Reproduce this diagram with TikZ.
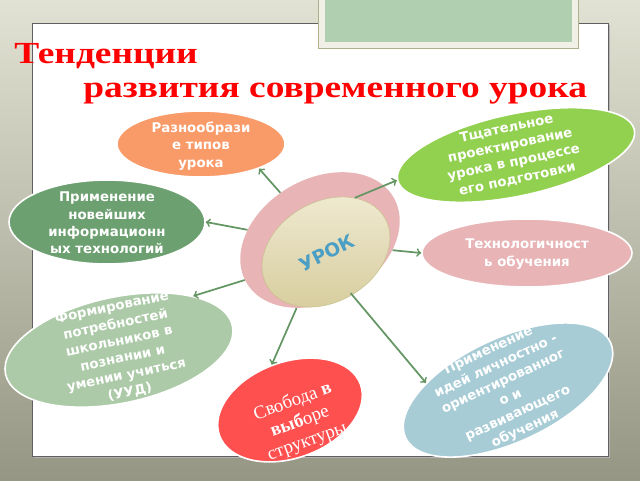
\documentclass[tikz,border=0pt]{standalone}
\usepackage{fontspec}
\setmainfont{DejaVu Sans}
\newfontfamily\titlefont{Liberation Serif}
\usetikzlibrary{shapes.geometric}

\definecolor{bgtop}{RGB}{226,226,212}
\definecolor{bgbot}{RGB}{150,150,132}
\definecolor{panelgrey}{RGB}{96,96,96}
\definecolor{boxframe}{RGB}{240,240,230}
\definecolor{boxedge}{RGB}{176,176,140}
\definecolor{boxgreen}{RGB}{176,206,176}
\definecolor{orangeb}{RGB}{248,155,105}
\definecolor{darkgreenb}{RGB}{108,160,112}
\definecolor{lightgreenb}{RGB}{172,202,168}
\definecolor{redb}{RGB}{255,80,80}
\definecolor{blueb}{RGB}{168,204,214}
\definecolor{pinkb}{RGB}{232,180,182}
\definecolor{limeb}{RGB}{146,208,80}
\definecolor{beigeA}{RGB}{240,234,210}
\definecolor{beigeB}{RGB}{214,204,156}
\definecolor{beigeedge}{RGB}{200,192,140}
\definecolor{urokblue}{RGB}{75,158,196}
\definecolor{arrowgreen}{RGB}{100,150,100}

\begin{document}
\begin{tikzpicture}[x=0.75pt, y=-0.75pt,
    bubble/.style={ellipse, draw=white, line width=1.2pt, inner sep=0pt},
    btext/.style={text=white, font=\bfseries\fontsize{10}{13}\selectfont, align=center},
    titletext/.style={anchor=base west, text=red, xscale=1.22, inner sep=0pt, font=\titlefont\bfseries\fontsize{23}{26}\selectfont},
    link/.style={->, draw=arrowgreen, line width=1.3pt}]
  \useasboundingbox (0,0) rectangle (640,480);
  \fill[top color=bgtop, bottom color=bgbot] (0,0) rectangle (640,480); % slide background
  \fill[black!30] (34,25) rectangle (610,458);
  \draw[fill=white, draw=panelgrey] (32,23) rectangle (608,456);
  \draw[fill=boxframe, draw=boxedge] (318,-2) rectangle (578,48);
  \fill[boxgreen] (325,-2) rectangle (572,42);

  % title
  \node[titletext] (title1) at (14,63) {Тенденции};
  \node[titletext] (title2) at (83,97) {развития современного урока};

  % the bubbles
  \node[bubble, fill=orangeb, minimum width=126pt, minimum height=49.5pt] (razn) at (201,144) {};
  \node[btext] (razn-t) at (201,146) {Разнообрази\\е типов\\урока};
  \node[bubble, fill=darkgreenb, minimum width=147pt, minimum height=63pt] (itech) at (107,222) {};
  \node[btext] (itech-t) at (107,223) {Применение\\новейших\\информационн\\ых технологий};
  \node[bubble, fill=lightgreenb, rotate=12, minimum width=174pt, minimum height=79.5pt] (uud) at (119,350) {};
  \node[btext, rotate=12] (uud-t) at (121,350) {Формирование\\потребностей\\школьников в\\познании и\\умении учиться\\(УУД)};
  \node[bubble, fill=redb, rotate=20, minimum width=112.5pt, minimum height=72pt] (svob) at (290,410) {};
  \node[text=white, align=center, rotate=20, font=\titlefont\fontsize{14}{16}\selectfont] (svob-t) at (300,422) {Свобода \textbf{в}\\\textbf{выб}оре\\структуры};
  \node[bubble, fill=blueb, rotate=25, minimum width=169.5pt, minimum height=78pt] (lichn) at (508,390) {};
  \node[btext, rotate=25] (lichn-t) at (507,390) {Применение\\идей личностно -\\ориентированног\\о и\\развивающего\\обучения};
  \node[bubble, fill=pinkb, minimum width=157.5pt, minimum height=51pt] (techn) at (527,253) {};
  \node[btext] (techn-t) at (527,254) {Технологичност\\ь обучения};
  \node[bubble, fill=limeb, rotate=12, minimum width=181.5pt, minimum height=61.5pt] (tshat) at (516,155) {};
  \node[btext, rotate=12] (tshat-t) at (512,154) {Тщательное\\проектирование\\урока в процессе\\его подготовки};

  % centre
  \node[ellipse, fill=pinkb, rotate=30, minimum width=127.5pt, minimum height=91.5pt, inner sep=0pt] (urokbg) at (320,240) {};
  \node[ellipse, draw=beigeedge, top color=beigeA, bottom color=beigeB, rotate=30, minimum width=102pt, minimum height=75pt, inner sep=0pt] (urok) at (326,252) {};
  \node[text=urokblue, rotate=26, font=\bfseries\fontsize{14}{16}\selectfont] (urok-t) at (327,253) {УРОК};

  % arrows out of the centre
  \draw[link] (urokbg.100) -- (razn.337);
  \draw[link] (urokbg.142) -- (itech.east);
  \draw[link] (urokbg.178) -- (uud.24);
  \draw[link] (urokbg.221) -- (svob.92);
  \draw[link] (urokbg.270) -- (lichn.150);
  \draw[link] (urokbg.322) -- (techn.west);
  \draw[link] (urok.32) -- (tshat.west);
\end{tikzpicture}
\end{document}
